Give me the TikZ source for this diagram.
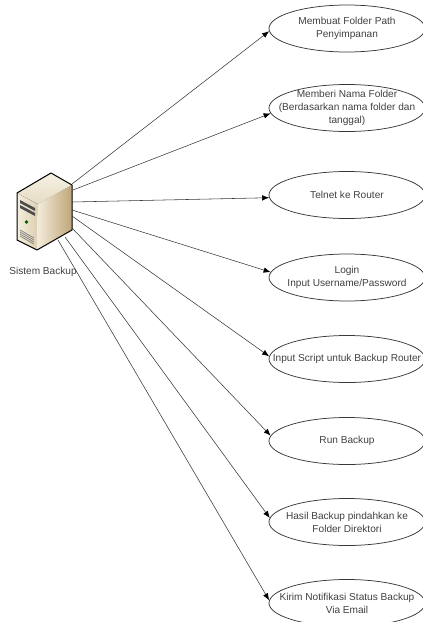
\documentclass[tikz,border=0pt]{standalone}
\usepackage{fontspec}
\setmainfont{Liberation Sans}
\usetikzlibrary{shapes.geometric,arrows.meta}
\definecolor{txt}{gray}{0.25}
\definecolor{edgec}{gray}{0.22}
\definecolor{frontL}{HTML}{F4EEDD}
\definecolor{frontR}{HTML}{DCCFB0}
\definecolor{topA}{HTML}{F6F1E4}
\definecolor{topB}{HTML}{E6DCC4}
\definecolor{sideL}{HTML}{F3ECDB}
\definecolor{sideR}{HTML}{BFA678}
\tikzset{
  tasktext/.style={align=center,font=\fontsize{10.1pt}{13pt}\selectfont,text=txt,inner sep=0pt},
  task/.style={draw=edgec,line width=0.75pt,ellipse,minimum width=156pt,minimum height=47pt,inner sep=0pt,
    label={[tasktext]center:#1}},
  link/.style={draw=edgec,line width=0.55pt,-{Latex[length=7pt,width=5.5pt,black]}},
}
\begin{document}
\begin{tikzpicture}[x=1pt,y=-1pt]
\useasboundingbox (0,0) rectangle (423,622);
% server icon
\shade[left color=frontL,right color=frontR] (17,193) -- (38,204) -- (37,250) -- (17,240) -- cycle;
\fill[top color=topA,bottom color=topB] (17,193) -- (51,173) -- (72,185) -- (38,204) -- cycle;
\shade[left color=sideL,right color=sideR] (38,204) -- (72,185) -- (72,230) -- (37,250) -- cycle;
\draw[black,line width=1pt,line join=round] (17,193) -- (51,173) -- (72,185) -- (72,230) -- (37,250) -- (17,240) -- cycle;
\fill[black!70] (20,200) -- (35,208) -- (35,211) -- (20,203) -- cycle;
\fill[black!70] (20,205) -- (35,213) -- (35,216) -- (20,208) -- cycle;
\fill[green!35!black] (26.5,222) circle (1.8pt);
\foreach \i in {0,2,4,6}{\draw[black!50,line width=0.7pt] (20,230+\i) -- (34,238+\i);}
\node[font=\fontsize{10.1pt}{12pt}\selectfont,text=txt,inner sep=0pt] (lbl) at (43,272) {Sistem Backup};
% named start points
\coordinate (s1) at (72,184);
\coordinate (s2) at (73,190);
\coordinate (s3) at (72,202);
\coordinate (s4) at (72,210);
\coordinate (s5) at (72,216);
\coordinate (s6) at (72,228);
\coordinate (s7) at (65,237);
\coordinate (s8) at (58,240);
% tasks
\node[task={Membuat Folder Path\\Penyimpanan}] (e1) at (347,28.5) {};
\node[task={Memberi Nama Folder\\(Berdasarkan nama folder dan\\tanggal)}] (e2) at (347,108) {};
\node[task={Telnet ke Router}] (e3) at (347,195) {};
\node[task={Login\\Input Username/Password}] (e4) at (347,277.5) {};
\node[task={Input Script untuk Backup Router}] (e5) at (347,359) {};
\node[task={Run Backup}] (e6) at (347,441) {};
\node[task={Hasil Backup pindahkan ke\\Folder Direktori}] (e7) at (347,522) {};
\node[task={Kirim Notifikasi Status Backup\\Via Email}] (e8) at (347,603) {};
% connectors
\draw[link] (s1) -- (e1.182.5);
\draw[link] (s2) -- (e2.184);
\draw[link] (s3) -- (e3.182);
\draw[link] (s4) -- (e4.176);
\draw[link] (s5) -- (e5.178);
\draw[link] (s6) -- (e6.176);
\draw[link] (s7) -- (e7.177);
\draw[link] (s8) -- (e8.178);
\end{tikzpicture}
\end{document}
